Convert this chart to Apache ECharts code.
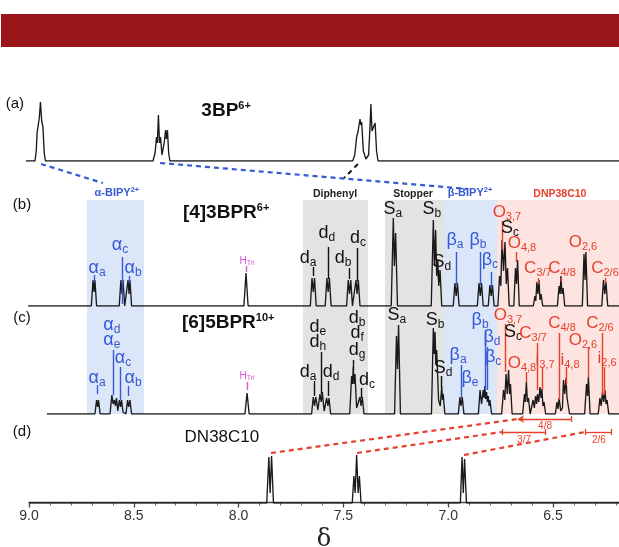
<!DOCTYPE html>
<html><head><meta charset="utf-8">
<script src="https://cdn.jsdelivr.net/npm/echarts@6/dist/echarts.min.js"></script>
<style>html,body{margin:0;padding:0;background:#fff}#c{width:619px;height:547px}</style>
</head><body><div id="c"></div>
<script>
// ---------- axis ticks ----------
const tickLabels = [9.0, 8.5, 8.0, 7.5, 7.0, 6.5];
const minorTicks = [8.9,8.8,8.7,8.6,8.4,8.3,8.2,8.1,7.9,7.8,7.7,7.6,7.4,7.3,7.2,7.1,6.9,6.8,6.7,6.6,6.4,6.3,6.2];

// ---------- spectra: [delta (ppm), intensity] ----------
const specA = [[9.015,0],[8.972,0],[8.966,10],[8.962,28],[8.957,30],[8.951,44],[8.946,59],[8.940,40],[8.934,34],[8.928,8],[8.922,0],
  [8.409,0],[8.399,8],[8.392,24],[8.388,18],[8.383,46],[8.378,18],[8.373,24],[8.366,6],[8.361,6],[8.354,20],[8.349,31],[8.345,22],[8.340,31],[8.334,8],[8.328,0],
  [7.456,0],[7.446,6],[7.437,24],[7.430,30],[7.421,42],[7.417,36],[7.413,39],[7.405,10],[7.393,2],[7.380,6],[7.372,40],[7.369,57],[7.364,30],[7.358,28],[7.349,38],[7.342,10],[7.335,0],
  [6.185,0]];

const specB = [[9.005,0],
  [8.703,0],[8.695,26],[8.690,14],[8.686,26],[8.678,0],
  [8.570,0],[8.562,26],[8.557,12],[8.552,26],[8.544,0],
  [8.536,0],[8.528,26],[8.523,12],[8.519,26],[8.511,0],
  [7.975,0],[7.965,33],[7.955,0],
  [7.658,0],[7.650,28],[7.644,14],[7.638,28],[7.630,0],
  [7.587,0],[7.579,28],[7.573,14],[7.567,28],[7.559,0],
  [7.485,0],[7.477,26],[7.471,12],[7.465,26],[7.457,0],
  [7.448,0],[7.440,26],[7.435,12],[7.429,26],[7.421,0],
  [7.272,0],[7.262,88],[7.257,40],[7.251,73],[7.242,0],
  [7.081,0],[7.071,86],[7.066,40],[7.060,76],[7.055,30],[7.050,46],[7.045,20],[7.039,36],[7.031,0],
  [6.976,0],[6.968,23],[6.962,10],[6.956,23],[6.948,0],
  [6.861,0],[6.853,23],[6.847,10],[6.841,23],[6.833,0],
  [6.809,0],[6.801,21],[6.795,10],[6.789,21],[6.781,0],
  [6.763,0],[6.755,30],[6.749,20],[6.743,66],[6.736,35],[6.729,64],[6.723,22],[6.717,38],[6.709,0],
  [6.687,0],[6.679,38],[6.674,22],[6.669,46],[6.661,0],
  [6.594,0],[6.586,10],[6.582,5],[6.577,24],[6.572,12],[6.567,26],[6.562,6],[6.557,12],[6.549,0],
  [6.479,0],[6.471,20],[6.466,12],[6.462,30],[6.457,12],[6.452,18],[6.444,0],
  [6.360,0],[6.352,52],[6.347,26],[6.343,54],[6.335,0],
  [6.267,0],[6.259,26],[6.253,12],[6.247,24],[6.239,0],
  [6.185,0]];

const specC = [[8.915,0],
  [8.686,0],[8.678,14],[8.673,7],[8.669,14],[8.661,0],
  [8.614,0],[8.605,19],[8.599,10],[8.593,14],[8.588,8],[8.583,16],[8.577,3],[8.569,14],[8.564,7],[8.559,14],[8.552,2],[8.538,0],[8.530,14],[8.525,7],[8.519,14],[8.511,0],
  [7.970,0],[7.960,21],[7.950,0],
  [7.652,0],[7.644,17],[7.638,8],[7.632,17],[7.622,4],[7.612,20],[7.606,12],[7.601,22],[7.592,3],[7.580,16],[7.574,8],[7.569,16],[7.561,0],
  [7.470,0],[7.461,38],[7.457,30],[7.453,47],[7.449,30],[7.445,40],[7.437,6],[7.430,4],[7.421,17],[7.416,8],[7.410,17],[7.402,0],
  [7.256,0],[7.247,78],[7.242,45],[7.237,89],[7.228,0],
  [7.080,0],[7.071,86],[7.067,60],[7.063,82],[7.059,50],[7.055,64],[7.046,14],[7.038,8],[7.031,27],[7.027,14],[7.024,20],[7.016,0],
  [6.952,0],[6.944,17],[6.939,8],[6.933,17],[6.925,0],
  [6.856,0],[6.848,24],[6.841,10],[6.833,24],[6.829,16],[6.825,28],[6.821,15],[6.817,22],[6.813,12],[6.809,18],[6.805,8],[6.801,14],[6.793,0],
  [6.745,0],[6.736,24],[6.730,14],[6.724,40],[6.718,20],[6.712,44],[6.707,20],[6.703,30],[6.695,0],
  [6.645,0],[6.636,20],[6.632,12],[6.627,32],[6.622,12],[6.617,16],[6.609,0],
  [6.603,0],[6.595,14],[6.589,6],[6.583,18],[6.578,10],[6.574,20],[6.568,12],[6.562,27],[6.557,16],[6.553,25],[6.548,8],[6.543,12],[6.535,0],
  [6.489,0],[6.481,12],[6.476,5],[6.471,16],[6.463,3],[6.455,6],[6.450,34],[6.444,20],[6.438,36],[6.433,16],[6.429,18],[6.421,0],
  [6.349,0],[6.340,30],[6.335,18],[6.331,37],[6.323,0],
  [6.284,0],[6.276,16],[6.270,8],[6.264,22],[6.258,12],[6.252,24],[6.247,10],[6.242,14],[6.234,0],
  [6.185,0]];

const specD = [[9.0,0],
  [7.866,0],[7.856,46],[7.850,10],[7.843,47],[7.834,0],
  [7.458,0],[7.450,27],[7.444,10],[7.437,48],[7.430,10],[7.424,27],[7.416,0],
  [6.942,0],[6.934,46],[6.928,10],[6.922,44],[6.913,0],
  [6.185,0]];

// ---------- annotations ----------
const F = 'Liberation Sans, Arial, Helvetica, sans-serif';
const BLUE = '#3659d6', RED = '#e63f2b', PINK = '#e055dc', BLACK = '#111111';

// shaded regions: [deltaLeft, deltaRight, top, bottom, colour]
const regions = [
  [8.724, 8.452, 200, 414, 'rgba(170,195,240,0.42)'],
  [7.693, 7.383, 200, 414, 'rgba(200,200,200,0.5)'],
  [7.302, 7.015, 200, 414, 'rgba(200,200,200,0.5)'],
  [7.015, 6.767, 200, 414, 'rgba(170,195,240,0.42)'],
  [6.767, 6.185, 200, 414, 'rgba(250,190,182,0.42)']
];

// peak labels: [delta, y, main, sub]
const labBlue = [
  [8.676,268,'α','a'],[8.566,245,'α','c'],[8.504,268,'α','b'],
  [6.968,240,'β','a'],[6.858,240,'β','b'],[6.801,260,'β','c'],
  [8.676,378,'α','a'],[8.605,325,'α','d'],[8.605,340,'α','e'],[8.552,358,'α','c'],[8.504,378,'α','b'],
  [6.953,355,'β','a'],[6.896,378,'β','e'],[6.848,320,'β','b'],[6.791,337,'β','d'],[6.786,357,'β','c']
];
const labBlack = [
  [7.669,258,'d','a'],[7.579,233,'d','d'],[7.502,258,'d','b'],[7.431,238,'d','c'],
  [7.264,209,'S','a'],[7.078,209,'S','b'],[7.030,262,'S','d'],[6.705,228,'S','c'],
  [7.669,372,'d','a'],[7.622,327,'d','e'],[7.622,342,'d','h'],[7.559,372,'d','d'],
  [7.435,318,'d','b'],[7.435,333,'d','f'],[7.435,350,'d','g'],[7.388,380,'d','c'],
  [7.245,315,'S','a'],[7.063,320,'S','b'],[7.025,368,'S','d'],[6.691,332,'S','c']
];
const labRed = [
  [6.720,212,'O','3,7'],[6.648,243,'O','4,8'],[6.572,268,'C','3/7'],[6.457,268,'C','4/8'],[6.357,242,'O','2,6'],[6.252,268,'C','2/6'],
  [6.715,315,'O','3,7'],[6.595,333,'C','3/7'],[6.648,363,'O','4,8'],[6.538,360,'i','3,7'],
  [6.457,323,'C','4/8'],[6.419,360,'i','4,8'],[6.357,340,'O','2,6'],[6.276,323,'C','2/6'],[6.242,358,'i','2,6']
];
const labPink = [[7.960,261,'H','Tri'],[7.960,376,'H','Tri']];

// label leader lines: [delta, y1, y2]
const linesBlue = [[8.690,275,282],[8.557,257,304],[8.523,276,283],[6.962,252,285],[6.847,252,285],[6.795,272,288],
  [8.673,385,394],[8.600,350,395],[8.566,367,400],[8.525,386,396],[6.939,365,397],[6.825,330,390],[6.813,347,390]];
const linesPink = [[7.965,266,272],[7.960,382,390]];
const linesBlack = [[7.644,267,276],[7.573,247,279],[7.471,268,279],[7.435,248,281],[7.049,270,279],
  [7.638,381,396],[7.606,352,394],[7.574,381,396],[7.453,360,370],[7.416,388,398],[7.031,376,388]];
const linesRed = [[6.743,221,250],[6.674,252,262],[6.572,278,284],[6.462,278,282],[6.253,278,284],
  [6.729,324,372],[6.577,343,390],[6.553,367,390],[6.629,372,382],[6.471,333,400],[6.438,367,385],[6.333,347,378],[6.266,333,395],[6.257,367,395]];

// dashed correlation lines: [[d1,y1],[d2,y2]]
const dashBlue = [[[8.943,164],[8.648,183]],[[8.375,163],[6.905,189]]];
const dashBlack = [[[7.431,164],[7.497,178]]];
const dashRed = [[[7.846,453],[6.667,419]],[[7.435,453],[6.743,432]],[[6.925,455],[6.347,432]]];
// ranges in (d): [dLeft, dRight, y, text]
const ranges = [[6.667,6.414,419,'4/8'],[6.743,6.538,432,'3/7'],[6.347,6.223,432,'2/6']];

// ---------- build ----------
const hidX = i => ({gridIndex:i,type:'value',min:6.185,max:9.034,inverse:true,show:false});
const hidY = (i,max) => ({gridIndex:i,type:'value',min:0,max:max,show:false});
const NB = {textBorderWidth:0, textBorderColor:'transparent', textShadowBlur:0};

function spec(data, xi) {
  return {type:'line', xAxisIndex:xi, yAxisIndex:xi, data:data, showSymbol:false, symbol:'none', silent:true, z:5,
    lineStyle:{color:'#1a1a1a', width:1.35}};
}
function labelSeries(items, color, mainSize, subSize, drop) {
  return {type:'scatter', xAxisIndex:4, yAxisIndex:4, symbolSize:0, silent:true, z:10,
    itemStyle:{color:'transparent', opacity:1},
    data: items.map(it => ({value:[it[0], it[1]], label:{formatter: it[3] ? '{m|'+it[2]+'}{s|'+it[3]+'}' : '{m|'+it[2]+'}'}})),
    label:Object.assign({show:true, position:'inside', align:'center', verticalAlign:'middle', color:color, opacity:1,
      rich:{m:Object.assign({fontSize:mainSize, fontFamily:F, color:color}, NB),
            s:Object.assign({fontSize:subSize, fontFamily:F, color:color, verticalAlign:'bottom', padding:[drop,0,0,0]}, NB)}}, NB)};
}
function leaders(items, color, width) {
  return {type:'lines', coordinateSystem:'cartesian2d', xAxisIndex:4, yAxisIndex:4, silent:true, z:8,
    data: items.map(it => ({coords:[[it[0], it[1]],[it[0], it[2]]]})),
    lineStyle:{color:color, width:width||1.4, opacity:1}};
}
function dashed(items, color) {
  return {type:'lines', coordinateSystem:'cartesian2d', xAxisIndex:4, yAxisIndex:4, silent:true, z:8,
    data: items.map(it => ({coords:it})),
    lineStyle:{color:color, width:2.2, type:[5,4], opacity:1}};
}
function rs(o){ return Object.assign(o, NB); }
function textSeries(items, z) {
  return {type:'scatter', xAxisIndex:4, yAxisIndex:4, symbolSize:0, silent:true, z:z||10,
    itemStyle:{color:'transparent', opacity:1},
    data: items.map(it => ({value:[it[0], it[1]], label:{formatter:it[2]}})),
    label:Object.assign({show:true, position:'inside', align:'center', verticalAlign:'middle', color:BLACK, opacity:1,
      rich:{
        big:rs({fontSize:19, fontWeight:'bold', fontFamily:F, color:BLACK}),
        bsup:rs({fontSize:11, fontWeight:'bold', fontFamily:F, color:BLACK, verticalAlign:'top', padding:[0,0,10,0]}),
        nrm:rs({fontSize:17, fontFamily:F, color:BLACK}),
        tag:rs({fontSize:15, fontFamily:F, color:BLACK}),
        hb:rs({fontSize:11, fontWeight:'bold', fontFamily:F, color:BLUE}),
        hbs:rs({fontSize:7.5, fontWeight:'bold', fontFamily:F, color:BLUE, verticalAlign:'top', padding:[0,0,6,0]}),
        hk:rs({fontSize:10.5, fontWeight:'bold', fontFamily:F, color:'#222'}),
        hr:rs({fontSize:10.5, fontWeight:'bold', fontFamily:F, color:RED}),
        rs:rs({fontSize:10, fontFamily:F, color:RED})
      }}, NB)};
}
// text annotations: [delta, y, rich formatter]
const texts = [
  [9.068,104,'{tag|(a)}'],[8.060,111,'{big|3BP}{bsup|6+}'],
  [9.034,205,'{tag|(b)}'],[8.060,213,'{big|[4]3BPR}{bsup|6+}'],
  [9.034,318,'{tag|(c)}'],[8.050,323,'{big|[6]5BPR}{bsup|10+}'],
  [9.034,432,'{tag|(d)}'],[8.080,437,'{nrm|DN38C10}'],
  [8.581,193,'{hb|α-BIPY}{hbs|2+}'],[7.540,194,'{hk|Diphenyl}'],[7.168,194,'{hk|Stopper}'],
  [6.896,193,'{hb|β-BIPY}{hbs|2+}'],[6.467,194,'{hr|DNP38C10}'],
  [6.538,426,'{rs|4/8}'],[6.638,440,'{rs|3/7}'],[6.281,440,'{rs|2/6}']
];

const rangeBars = [];
ranges.forEach(r => {
  rangeBars.push({coords:[[r[0],r[2]],[r[1],r[2]]]});
  rangeBars.push({coords:[[r[1],r[2]-3],[r[1],r[2]+3]]});
});
const rangeLeftTicks = ranges.slice(1).map(r => ({coords:[[r[0],r[2]-3],[r[0],r[2]+3]]}));

const option = {
  animation:false,
  backgroundColor:'#fff',
  graphic:[{type:'rect', shape:{x:1,y:14,width:618,height:33}, style:{fill:'#9a1519'}, z:0}],
  grid:[
    {left:22,right:0,top:61,height:100},
    {left:22,right:0,top:206,height:100},
    {left:22,right:0,top:314,height:100},
    {left:22,right:0,top:403,height:100},
    {left:0,right:0,top:0,bottom:0},
    {left:29,right:0,top:500,height:10}
  ],
  xAxis:[hidX(0),hidX(1),hidX(2),hidX(3),
    {gridIndex:4,type:'value',min:6.185,max:9.139,inverse:true,show:false},
    {gridIndex:5,type:'value',min:6.185,max:9.0,inverse:true,position:'bottom',
      axisLine:{show:true,lineStyle:{color:'#444',width:1.3}},
      axisTick:{show:true,customValues:tickLabels,length:5,lineStyle:{color:'#444',width:1.3}},
      axisLabel:{show:true,customValues:tickLabels,formatter:v=>Number(v).toFixed(1),fontSize:14,color:'#333',margin:7,fontFamily:F},
      splitLine:{show:false},
      name:'δ',nameLocation:'middle',nameGap:25,nameTextStyle:{fontSize:24,fontFamily:'DejaVu Serif, Liberation Serif, serif',color:'#222'}},
    {gridIndex:5,type:'value',min:6.185,max:9.0,inverse:true,position:'bottom',
      axisLine:{show:false},
      axisTick:{show:true,customValues:minorTicks,length:3,lineStyle:{color:'#666',width:1}},
      axisLabel:{show:false},splitLine:{show:false}}
  ],
  yAxis:[hidY(0,100),hidY(1,100),hidY(2,100),hidY(3,100),
    {gridIndex:4,type:'value',min:0,max:547,inverse:true,show:false},
    {gridIndex:5,type:'value',min:0,max:1,show:false}],
  series:[
    {type:'line', xAxisIndex:4, yAxisIndex:4, data:[], silent:true, z:1,
      markArea:{silent:true, data: regions.map(r => [{xAxis:r[0], yAxis:r[2], itemStyle:{color:r[4]}},{xAxis:r[1], yAxis:r[3]}])}},
    spec(specA,0), spec(specB,1), spec(specC,2), spec(specD,3),
    leaders(linesBlue, BLUE), leaders(linesBlack, BLACK), leaders(linesRed, RED), leaders(linesPink, PINK),
    dashed(dashBlue, BLUE), dashed(dashBlack, '#222'), dashed(dashRed, RED),
    {type:'lines', coordinateSystem:'cartesian2d', xAxisIndex:4, yAxisIndex:4, silent:true, z:8,
      data: rangeBars.concat(rangeLeftTicks), lineStyle:{color:RED, width:1.3, opacity:1}},
    {type:'lines', coordinateSystem:'cartesian2d', xAxisIndex:4, yAxisIndex:4, silent:true, z:8,
      symbol:['arrow','none'], symbolSize:6,
      data:[{coords:[[ranges[0][0],ranges[0][2]],[ranges[0][0]-0.03,ranges[0][2]]]}], lineStyle:{color:RED, width:1.3, opacity:1}},
    labelSeries(labBlue, BLUE, 18, 12, 10),
    labelSeries(labBlack, BLACK, 18, 12, 10),
    labelSeries(labRed, RED, 17, 11, 10),
    labelSeries(labPink, PINK, 10, 7, 4),
    textSeries(texts)
  ]
};
echarts.init(document.getElementById('c'), null, {renderer:'canvas'}).setOption(option);
</script>
</body></html>
